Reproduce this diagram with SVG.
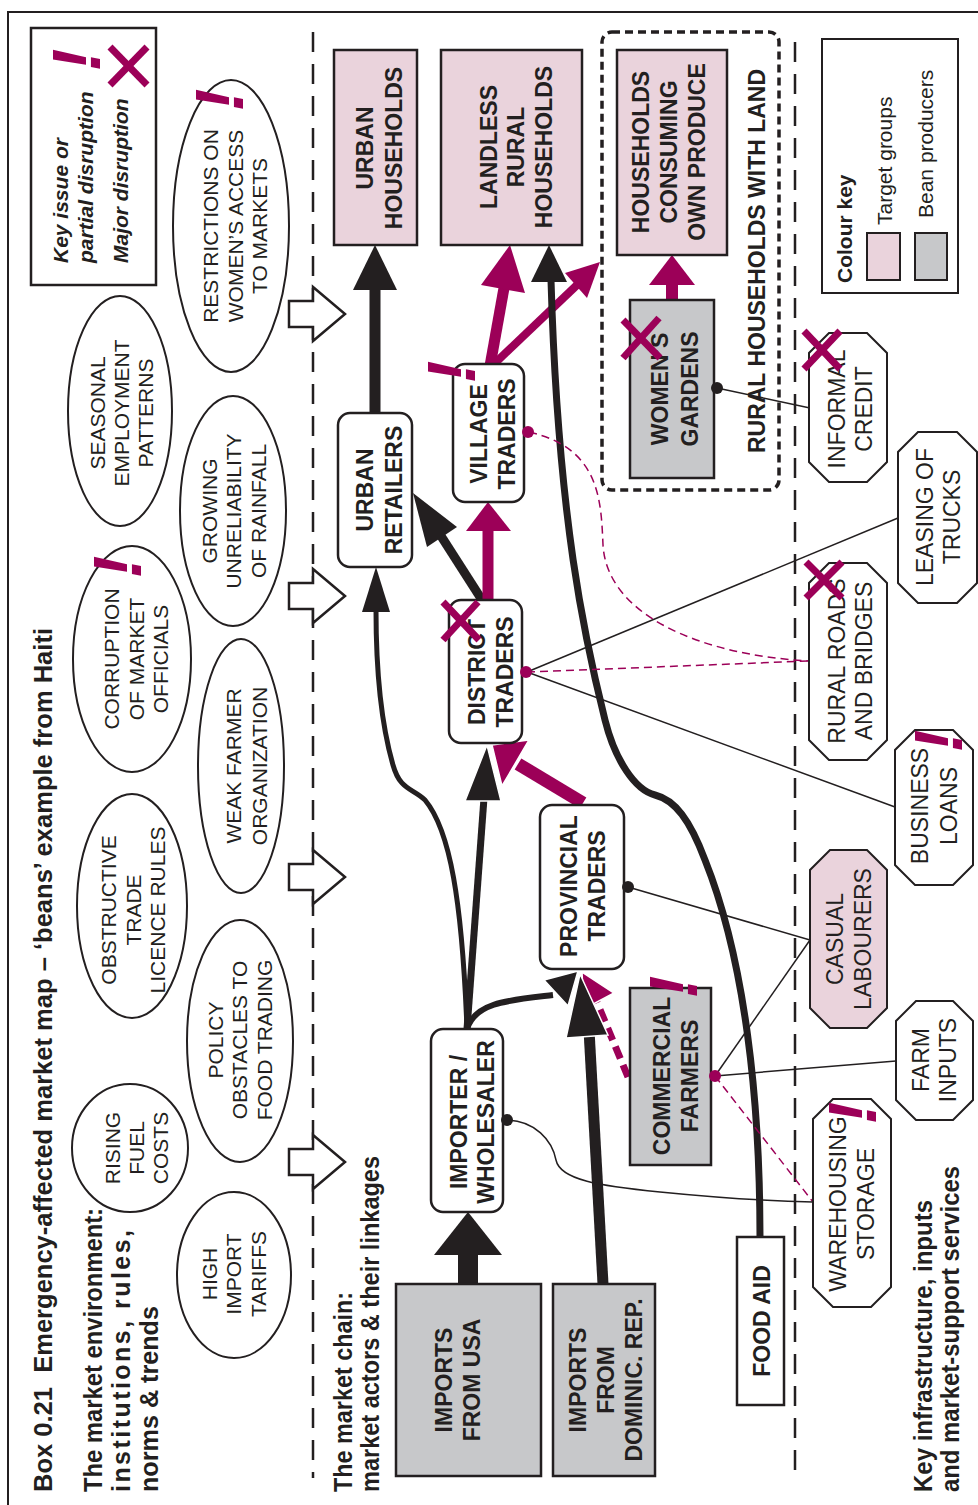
<svg xmlns="http://www.w3.org/2000/svg" width="978" height="1505" viewBox="0 0 978 1505">
<defs><style>
text{font-family:"Liberation Sans",Arial,sans-serif;fill:#231f20}
.e{font-size:21px;text-anchor:middle}
.n{font-size:23px;font-weight:bold;text-anchor:middle}
.o{font-size:23px;text-anchor:middle}
.h{font-size:25px;font-weight:bold}
.li{font-size:21px;font-weight:bold;font-style:italic}
.ck{font-size:21px}
.ex{font-size:68px;font-weight:bold;font-style:italic;fill:#9c0058;text-anchor:middle}
.el{fill:#fff;stroke:#231f20;stroke-width:2}
.bx{stroke:#231f20;stroke-width:2.5}
.pk{fill:#ead3dc}
.gy{fill:#c7c8ca}
.wh{fill:#fff}
.oc{stroke:#231f20;stroke-width:2}
.ba{fill:#fff;stroke:#231f20;stroke-width:2.5}
.x{stroke:#9c0058;stroke-width:7;fill:none}
.div{stroke:#231f20;stroke-width:2.5;stroke-dasharray:20 12;fill:none}
.kb{fill:none;stroke:#231f20}
.km{fill:none;stroke:#9c0058}
.hk{fill:#231f20}
.hm{fill:#9c0058}
.hkw{fill:#231f20;stroke:#fff;stroke-width:1.5}
.hmw{fill:#9c0058;stroke:#fff;stroke-width:1.5}
.thin{fill:none;stroke:#231f20;stroke-width:1.5}
.md{fill:none;stroke:#9c0058;stroke-width:1.5;stroke-dasharray:8 5}
.dk{fill:#231f20}
.dm{fill:#9c0058}
</style></defs>
<rect width="978" height="1505" fill="#fff"/>
<rect x="8" y="12" width="985" height="1510" fill="none" stroke="#231f20" stroke-width="2"/>

<g id="headings">
<text class="h" font-size="28" transform="translate(52,1492) rotate(-90)" textLength="864" lengthAdjust="spacingAndGlyphs">Box 0.21&#160; Emergency-affected market map – ‘beans’ example from Haiti</text>
<text class="h" transform="translate(102,1492) rotate(-90)" textLength="284" lengthAdjust="spacingAndGlyphs">The market environment:</text>
<text class="h" transform="translate(130,1492) rotate(-90)" textLength="262" lengthAdjust="spacing">institutions, rules,</text>
<text class="h" transform="translate(158,1492) rotate(-90)" textLength="186" lengthAdjust="spacingAndGlyphs">norms &amp; trends</text>
<text class="h" transform="translate(352,1492) rotate(-90)" textLength="200" lengthAdjust="spacingAndGlyphs">The market chain:</text>
<text class="h" transform="translate(379,1492) rotate(-90)" textLength="336" lengthAdjust="spacingAndGlyphs">market actors &amp; their linkages</text>
<text class="h" transform="translate(932,1492) rotate(-90)" textLength="292" lengthAdjust="spacingAndGlyphs">Key infrastructure, inputs</text>
<text class="h" transform="translate(959,1492) rotate(-90)" textLength="326" lengthAdjust="spacingAndGlyphs">and market-support services</text>
</g>

<g id="dividers">
<line x1="313" y1="32" x2="313" y2="1478" class="div"/>
<line x1="795" y1="42" x2="795" y2="1475" class="div"/>
</g>

<g id="legend">
<rect x="31" y="28" width="125" height="257" fill="#fff" stroke="#231f20" stroke-width="2.5"/>
<text class="ex" transform="translate(0,60) rotate(-90)"><tspan x="0" y="100">!</tspan></text>
<line x1="110" y1="47" x2="147" y2="85" class="x"/><line x1="110" y1="85" x2="147" y2="47" class="x"/>
<text class="li" transform="translate(0,263) rotate(-90)"><tspan x="0" y="68">Key issue or</tspan><tspan x="0" y="93">partial disruption</tspan><tspan x="0" y="128">Major disruption</tspan></text>
</g>

<g id="env-restrictions"><ellipse cx="231" cy="226" rx="58" ry="146" class="el"/>
<text class="e" transform="translate(0,226) rotate(-90)"><tspan x="0" y="218">RESTRICTIONS ON</tspan><tspan x="0" y="243">WOMEN’S ACCESS</tspan><tspan x="0" y="267">TO MARKETS</tspan></text>
<text class="ex" transform="translate(0,100) rotate(-90)"><tspan x="0" y="243">!</tspan></text></g>
<g id="env-seasonal"><ellipse cx="120" cy="411" rx="52" ry="115" class="el"/>
<text class="e" transform="translate(0,413) rotate(-90)"><tspan x="0" y="105">SEASONAL</tspan><tspan x="0" y="129">EMPLOYMENT</tspan><tspan x="0" y="153">PATTERNS</tspan></text></g>
<g id="env-corruption"><ellipse cx="132" cy="659" rx="59" ry="113" class="el"/>
<text class="e" transform="translate(0,659) rotate(-90)"><tspan x="0" y="119">CORRUPTION</tspan><tspan x="0" y="144">OF MARKET</tspan><tspan x="0" y="168">OFFICIALS</tspan></text>
<text class="ex" transform="translate(0,567) rotate(-90)"><tspan x="0" y="141">!</tspan></text></g>
<g id="env-rainfall"><ellipse cx="233" cy="511" rx="53" ry="115" class="el"/>
<text class="e" transform="translate(0,511) rotate(-90)"><tspan x="0" y="217">GROWING</tspan><tspan x="0" y="241">UNRELIABILITY</tspan><tspan x="0" y="266">OF RAINFALL</tspan></text></g>
<g id="env-weak"><ellipse cx="241" cy="766" rx="43" ry="127" class="el"/>
<text class="e" transform="translate(0,766) rotate(-90)"><tspan x="0" y="241">WEAK FARMER</tspan><tspan x="0" y="267">ORGANIZATION</tspan></text></g>
<g id="env-licence"><ellipse cx="132" cy="906" rx="55" ry="112" class="el"/>
<text class="e" transform="translate(0,910) rotate(-90)"><tspan x="0" y="116">OBSTRUCTIVE</tspan><tspan x="0" y="141">TRADE</tspan><tspan x="0" y="165">LICENCE RULES</tspan></text></g>
<g id="env-policy"><ellipse cx="240" cy="1041" rx="53" ry="121" class="el"/>
<text class="e" transform="translate(0,1040) rotate(-90)"><tspan x="0" y="223">POLICY</tspan><tspan x="0" y="247">OBSTACLES TO</tspan><tspan x="0" y="272">FOOD TRADING</tspan></text></g>
<g id="env-fuel"><ellipse cx="130" cy="1148" rx="58" ry="64" class="el"/>
<text class="e" transform="translate(0,1148) rotate(-90)"><tspan x="0" y="120">RISING</tspan><tspan x="0" y="144">FUEL</tspan><tspan x="0" y="168">COSTS</tspan></text></g>
<g id="env-tariffs"><ellipse cx="234" cy="1275" rx="57" ry="83" class="el"/>
<text class="e" transform="translate(0,1274) rotate(-90)"><tspan x="0" y="217">HIGH</tspan><tspan x="0" y="241">IMPORT</tspan><tspan x="0" y="266">TARIFFS</tspan></text></g>

<g id="env-arrows">
<polygon class="ba" points="289,301 313,301 313,287 345,314 313,341 313,327 289,327"/>
<polygon class="ba" points="289,583 313,583 313,569 345,596 313,623 313,609 289,609"/>
<polygon class="ba" points="289,864 313,864 313,850 345,877 313,904 313,890 289,890"/>
<polygon class="ba" points="289,1149 313,1149 313,1135 345,1162 313,1189 313,1175 289,1175"/>
</g>

<g id="rural-with-land">
<rect x="602" y="32" width="177" height="458" rx="10" fill="none" stroke="#231f20" stroke-width="3.5" stroke-dasharray="8 5"/>
<text class="n" font-size="24" transform="translate(0,261) rotate(-90)"><tspan x="0" y="765">RURAL HOUSEHOLDS WITH LAND</tspan></text>
</g>

<g id="connectors">
<line x1="375" y1="413" x2="375" y2="288" stroke-width="11" class="kb"/>
<polygon class="hk" points="375,245 353,290 397,290"/>
<line x1="482" y1="600" x2="441" y2="536" stroke-width="9" class="kb"/>
<polygon class="hk" points="413,493 427,547 457,527"/>
<line x1="488" y1="600" x2="488" y2="528" stroke-width="11" class="km"/>
<polygon class="hm" points="488,502 466,531 511,531"/>
<line x1="490" y1="366" x2="504" y2="288" stroke-width="11" class="km"/>
<polygon class="hm" points="510,245 481,285 525,293"/>
<line x1="492" y1="366" x2="577" y2="285" stroke-width="8" class="km"/>
<polygon class="hm" points="600,262 565,273 587,298"/>
<rect x="666" y="282" width="12" height="19" class="hm"/>
<polygon class="hm" points="672,255 649,285 695,285"/>
<path d="M 760 1237 C 760 1100, 745 960, 705 860 C 690 820, 675 800, 655 795 C 635 790, 615 760, 605 720 C 585 640, 558 520, 551 280" stroke-width="7" class="kb"/>
<polygon class="hk" points="549,245 531,282 567,282"/>
<path d="M 467 1029 C 462 900, 450 830, 425 800 C 412 788, 400 790, 393 765 C 380 720, 376 660, 376 610" stroke-width="5" class="kb"/>
<polygon class="hk" points="376,567 362,612 390,612"/>
<line x1="467" y1="1029" x2="484" y2="798" stroke-width="7" class="kb"/>
<line x1="583" y1="803" x2="518" y2="764" stroke-width="13" class="km"/>
<polygon class="hmw" points="492,745 529,740 502,786"/>
<polygon class="hkw" points="487,745 465,801 501,801"/>
<path d="M 467 1029 C 475 1002, 510 1000, 553 995" stroke-width="6" class="kb"/>
<rect x="458" y="1252" width="20" height="33" class="hk"/>
<polygon class="hk" points="468,1212 434,1255 502,1255"/>
<line x1="603" y1="1284" x2="589" y2="1030" stroke-width="11" class="kb"/>
<line x1="628" y1="1077" x2="596" y2="1000" stroke-width="7" stroke-dasharray="13 7" class="km"/>
<polygon class="hmw" points="582,972 614,993 584,1009"/>
<polygon class="hkw" points="580,974 566,1038 608,1035"/>
<polygon class="hkw" points="578,971 544,980 568,1006"/>
<line x1="717" y1="388" x2="810" y2="408" class="thin"/>
<line x1="527" y1="672" x2="898" y2="518" class="thin"/>
<line x1="527" y1="672" x2="895" y2="807" class="thin"/>
<line x1="527" y1="672" x2="809" y2="661" class="md"/>
<path d="M 529 432 C 600 448, 601 500, 603 545 C 607 615, 700 655, 809 661" class="md"/>
<line x1="628" y1="887" x2="810" y2="940" class="thin"/>
<line x1="715" y1="1076" x2="810" y2="940" class="thin"/>
<line x1="715" y1="1076" x2="896" y2="1061" class="thin"/>
<line x1="715" y1="1076" x2="813" y2="1202" class="md"/>
<path d="M 507 1120 C 535 1121, 552 1140, 556 1160 C 560 1180, 600 1186, 660 1192 C 720 1198, 770 1201, 813 1202" class="thin"/>
</g>

<g id="urban-households"><rect x="334" y="50" width="83" height="195" class="pk bx"/>
<text class="n" transform="translate(0,148) rotate(-90)"><tspan x="0" y="373">URBAN</tspan><tspan x="0" y="402">HOUSEHOLDS</tspan></text></g>
<g id="landless-rural-households"><rect x="441" y="50" width="141" height="195" class="pk bx"/>
<text class="n" transform="translate(0,147) rotate(-90)"><tspan x="0" y="497">LANDLESS</tspan><tspan x="0" y="524">RURAL</tspan><tspan x="0" y="552">HOUSEHOLDS</tspan></text></g>
<g id="households-consuming"><rect x="617" y="50" width="110" height="205" class="pk bx"/>
<text class="n" transform="translate(0,152) rotate(-90)"><tspan x="0" y="649">HOUSEHOLDS</tspan><tspan x="0" y="677">CONSUMING</tspan><tspan x="0" y="705">OWN PRODUCE</tspan></text></g>
<g id="womens-gardens"><rect x="630" y="300" width="84" height="178" class="gy bx"/>
<text class="n" transform="translate(0,389) rotate(-90)"><tspan x="0" y="668">WOMEN’S</tspan><tspan x="0" y="698">GARDENS</tspan></text>
<line x1="623" y1="320" x2="660" y2="358" class="x"/><line x1="623" y1="358" x2="659" y2="318" class="x"/>
<circle cx="717" cy="388" r="6" class="dk"/></g>
<g id="urban-retailers"><rect x="338" y="413" width="74" height="154" rx="12" class="wh bx"/>
<text class="n" transform="translate(0,490) rotate(-90)"><tspan x="0" y="373">URBAN</tspan><tspan x="0" y="402">RETAILERS</tspan></text></g>
<g id="village-traders"><rect x="453" y="364" width="71" height="138" rx="12" class="wh bx"/>
<text class="n" transform="translate(0,434) rotate(-90)"><tspan x="0" y="487">VILLAGE</tspan><tspan x="0" y="515">TRADERS</tspan></text>
<text class="ex" transform="translate(0,372) rotate(-90)"><tspan x="0" y="475">!</tspan></text>
<circle cx="528" cy="432" r="6" class="dm"/></g>
<g id="district-traders"><rect x="449" y="600" width="73" height="143" rx="12" class="wh bx"/>
<text class="n" transform="translate(0,672) rotate(-90)"><tspan x="0" y="485">DISTRICT</tspan><tspan x="0" y="513">TRADERS</tspan></text>
<line x1="443" y1="602" x2="479" y2="640" class="x"/><line x1="443" y1="640" x2="478" y2="602" class="x"/>
<circle cx="526" cy="672" r="6" class="dm"/></g>
<g id="provincial-traders"><rect x="540" y="805" width="84" height="164" rx="12" class="wh bx"/>
<text class="n" transform="translate(0,886) rotate(-90)"><tspan x="0" y="577">PROVINCIAL</tspan><tspan x="0" y="605">TRADERS</tspan></text>
<circle cx="628" cy="887" r="6" class="dk"/></g>
<g id="importer-wholesaler"><rect x="431" y="1029" width="72" height="183" rx="12" class="wh bx"/>
<text class="n" transform="translate(0,1122) rotate(-90)"><tspan x="0" y="467">IMPORTER /</tspan><tspan x="0" y="494">WHOLESALER</tspan></text>
<circle cx="507" cy="1120" r="6" class="dk"/></g>
<g id="commercial-farmers"><rect x="630" y="988" width="81" height="177" class="gy bx"/>
<text class="n" transform="translate(0,1076) rotate(-90)"><tspan x="0" y="670">COMMERCIAL</tspan><tspan x="0" y="698">FARMERS</tspan></text>
<text class="ex" transform="translate(0,987) rotate(-90)"><tspan x="0" y="697">!</tspan></text>
<circle cx="715" cy="1076" r="6" class="dm"/></g>
<g id="imports-usa"><rect x="396" y="1284" width="145" height="192" class="gy bx"/>
<text class="n" transform="translate(0,1380) rotate(-90)"><tspan x="0" y="452">IMPORTS</tspan><tspan x="0" y="480">FROM USA</tspan></text></g>
<g id="imports-dominican"><rect x="553" y="1284" width="102" height="192" class="gy bx"/>
<text class="n" transform="translate(0,1380) rotate(-90)"><tspan x="0" y="586">IMPORTS</tspan><tspan x="0" y="614">FROM</tspan><tspan x="0" y="642">DOMINIC. REP.</tspan></text></g>
<g id="food-aid"><rect x="737" y="1237" width="47" height="168" class="wh bx"/>
<text class="n" transform="translate(0,1321) rotate(-90)"><tspan x="0" y="770">FOOD AID</tspan></text></g>

<g id="informal-credit"><polygon points="829,333 867,333 887,353 887,462 867,482 829,482 809,462 809,353" class="wh oc"/>
<text class="o" transform="translate(0,409) rotate(-90)"><tspan x="0" y="845">INFORMAL</tspan><tspan x="0" y="872">CREDIT</tspan></text>
<line x1="804" y1="331" x2="840" y2="369" class="x"/><line x1="804" y1="369" x2="840" y2="331" class="x"/></g>
<g id="leasing-trucks"><polygon points="918,432 957,432 977,452 977,583 957,603 918,603 898,583 898,452" class="wh oc"/>
<text class="o" transform="translate(0,517) rotate(-90)"><tspan x="0" y="933">LEASING OF</tspan><tspan x="0" y="960">TRUCKS</tspan></text></g>
<g id="rural-roads"><polygon points="829,563 867,563 887,583 887,740 867,760 829,760 809,740 809,583" class="wh oc"/>
<text class="o" transform="translate(0,661) rotate(-90)"><tspan x="0" y="845">RURAL ROADS</tspan><tspan x="0" y="872">AND BRIDGES</tspan></text>
<line x1="806" y1="562" x2="842" y2="598" class="x"/><line x1="806" y1="598" x2="842" y2="562" class="x"/></g>
<g id="business-loans"><polygon points="915,730 953,730 973,750 973,865 953,885 915,885 895,865 895,750" class="wh oc"/>
<text class="o" transform="translate(0,806) rotate(-90)"><tspan x="0" y="928">BUSINESS</tspan><tspan x="0" y="957">LOANS</tspan></text>
<text class="ex" transform="translate(0,741) rotate(-90)"><tspan x="0" y="962">!</tspan></text></g>
<g id="casual-labourers"><polygon points="830,850 867,850 887,870 887,1008 867,1028 830,1028 810,1008 810,870" class="pk oc"/>
<text class="o" transform="translate(0,939) rotate(-90)"><tspan x="0" y="843">CASUAL</tspan><tspan x="0" y="871">LABOURERS</tspan></text></g>
<g id="farm-inputs"><polygon points="916,1001 953,1001 973,1021 973,1100 953,1120 916,1120 896,1100 896,1021" class="wh oc"/>
<text class="o" transform="translate(0,1060) rotate(-90)"><tspan x="0" y="929">FARM</tspan><tspan x="0" y="956">INPUTS</tspan></text></g>
<g id="warehousing-storage"><polygon points="833,1099 871,1099 891,1119 891,1287 871,1307 833,1307 813,1287 813,1119" class="wh oc"/>
<text class="o" transform="translate(0,1204) rotate(-90)"><tspan x="0" y="846">WAREHOUSING</tspan><tspan x="0" y="874">STORAGE</tspan></text>
<text class="ex" transform="translate(0,1113) rotate(-90)"><tspan x="0" y="876">!</tspan></text></g>

<g id="colour-key">
<rect x="822" y="39" width="136" height="254" fill="#fff" stroke="#231f20" stroke-width="2"/>
<text class="ck" font-weight="bold" transform="translate(852,283) rotate(-90)">Colour key</text>
<rect x="867" y="233" width="33" height="47" class="pk" stroke="#231f20" stroke-width="2"/>
<rect x="915" y="233" width="32" height="47" class="gy" stroke="#231f20" stroke-width="2"/>
<text class="ck" transform="translate(892,225) rotate(-90)">Target groups</text>
<text class="ck" transform="translate(933,218) rotate(-90)">Bean producers</text>
</g>
</svg>
